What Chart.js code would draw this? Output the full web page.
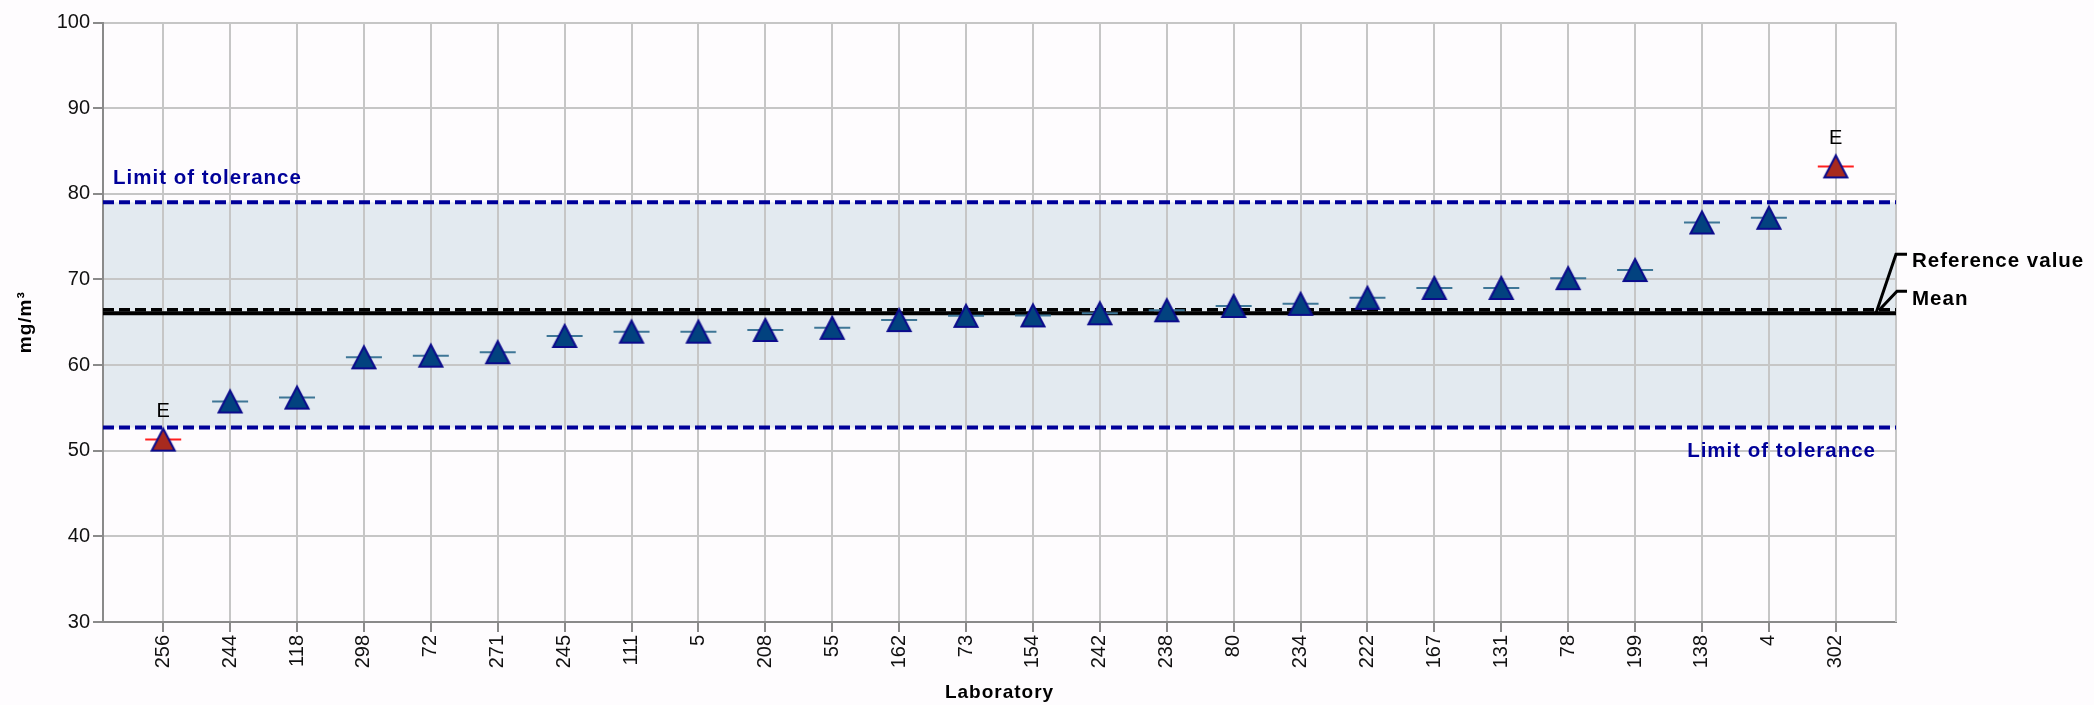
<!DOCTYPE html>
<html>
<head>
<meta charset="utf-8">
<title>Laboratory results</title>
<script src="https://cdn.jsdelivr.net/npm/chart.js@4.4.1/dist/chart.umd.min.js"></script>
<style>
  html, body { margin: 0; padding: 0; background: #fefcfe; }
  canvas { display: block; }
</style>
</head>
<body>
<canvas id="chart" width="2094" height="705"></canvas>
<script>
// Laboratory codes, sorted by reported result
const laboratories = ['256', '244', '118', '298', '72', '271', '245', '111', '5', '208', '55', '162', '73',
  '154', '242', '238', '80', '234', '222', '167', '131', '78', '199', '138', '4', '302'];
// Reported results (mg/m³)
const results = [51.3, 55.75, 56.2, 60.9, 61.1, 61.5, 63.4, 63.9, 63.9, 64.1, 64.35, 65.25, 65.75,
  65.8, 66.05, 66.4, 66.9, 67.15, 67.85, 69.0, 69.0, 70.15, 71.1, 76.65, 77.2, 83.2];
// Outlier flags ('E' = outside the limits of tolerance)
const flags = ['E', '', '', '', '', '', '', '', '', '', '', '', '', '', '', '', '', '', '', '', '', '', '', '', '', 'E'];
// Value axis ticks
const yTicks = [30, 40, 50, 60, 70, 80, 90, 100];
// Limits and statistics
const toleranceUpper = [79.0];
const toleranceLower = [52.7];
const referenceValue = [66.45];
const meanValue = [66.05];

const FONT = "'Liberation Sans', Arial, Helvetica, sans-serif";
const NAVY = '#000099';
const xMin = -0.9;
const xMax = laboratories.length - 1 + 0.9;

// Triangle marker drawn centred on its value
function makeTriangle(fill, stroke) {
  const c = document.createElement('canvas');
  c.width = 28; c.height = 28;
  const g = c.getContext('2d');
  g.beginPath();
  g.moveTo(14, 3);
  g.lineTo(25.5, 25);
  g.lineTo(2.5, 25);
  g.closePath();
  g.fillStyle = fill;
  g.fill();
  g.lineWidth = 2;
  g.lineJoin = 'miter';
  g.strokeStyle = stroke;
  g.stroke();
  return c;
}
const triNormal = makeTriangle('#02427f', '#0b0b8c');
const triOutlier = makeTriangle('#a82a1e', '#0b0b8c');

const points = results.map((v, i) => ({ x: i, y: v }));
const hLine = (arr) => [{ x: xMin, y: arr[0] }, { x: xMax, y: arr[0] }];

const decorations = {
  id: 'decorations',
  beforeDraw(chart) {
    const { ctx, chartArea: a, scales: { y } } = chart;
    ctx.save();
    ctx.fillStyle = '#fefcfe';
    ctx.fillRect(0, 0, chart.width, chart.height);
    const t = y.getPixelForValue(toleranceUpper[0]);
    const b = y.getPixelForValue(toleranceLower[0]);
    ctx.fillStyle = '#e3eaf0';
    ctx.fillRect(a.left, t, a.right - a.left, b - t);
    ctx.restore();
  },
  beforeDatasetsDraw(chart) {
    const { ctx, chartArea: a } = chart;
    ctx.save();
    ctx.strokeStyle = '#c6c6c6';
    ctx.lineWidth = 2;
    ctx.beginPath();
    ctx.moveTo(a.right, a.top);
    ctx.lineTo(a.right, a.bottom);
    ctx.stroke();
    ctx.restore();
  },
  afterDatasetsDraw(chart) {
    const { ctx, chartArea: a, scales: { x, y } } = chart;
    ctx.save();

    // Outlier marks
    ctx.font = '20px ' + FONT;
    ctx.fillStyle = '#000';
    ctx.textAlign = 'center';
    ctx.textBaseline = 'middle';
    flags.forEach((f, i) => {
      if (!f) return;
      ctx.fillText(f, x.getPixelForValue(i), y.getPixelForValue(results[i]) - 28);
    });

    ctx.letterSpacing = '1px';
    ctx.font = 'bold 20.5px ' + FONT;
    ctx.textBaseline = 'alphabetic';

    // Limit of tolerance labels
    ctx.fillStyle = NAVY;
    ctx.textAlign = 'left';
    ctx.fillText('Limit of tolerance', a.left + 10, y.getPixelForValue(toleranceUpper[0]) - 18);
    ctx.textAlign = 'right';
    ctx.fillText('Limit of tolerance', a.right - 20, y.getPixelForValue(toleranceLower[0]) + 29);

    // Reference value / mean callouts
    const ym = y.getPixelForValue(meanValue[0]);
    ctx.strokeStyle = '#000';
    ctx.lineWidth = 3;
    ctx.lineJoin = 'miter';
    ctx.beginPath();
    ctx.moveTo(a.right - 20, ym);
    ctx.lineTo(a.right, ym - 59);
    ctx.lineTo(a.right + 11, ym - 59);
    ctx.stroke();
    ctx.beginPath();
    ctx.moveTo(a.right - 17, ym - 3);
    ctx.lineTo(a.right + 1, ym - 22);
    ctx.lineTo(a.right + 11, ym - 22);
    ctx.stroke();
    ctx.fillStyle = '#000';
    ctx.textAlign = 'left';
    ctx.fillText('Reference value', a.right + 16, ym - 46);
    ctx.fillText('Mean', a.right + 16, ym - 8);

    // Axis titles
    ctx.font = 'bold 19px ' + FONT;
    ctx.textAlign = 'center';
    ctx.textBaseline = 'middle';
    ctx.fillText('Laboratory', (a.left + a.right) / 2, 693);
    ctx.translate(26, (a.top + a.bottom) / 2);
    ctx.rotate(-Math.PI / 2);
    ctx.fillText('mg/m³', 0, 0);
    ctx.restore();
  }
};

new Chart(document.getElementById('chart'), {
  type: 'scatter',
  data: {
    datasets: [
      {
        label: 'Result',
        data: points,
        pointStyle: flags.map(f => f ? triOutlier : triNormal),
        pointRadius: 13,
        order: 0
      },
      {
        label: 'Result line',
        data: points,
        pointStyle: 'line',
        pointRadius: 18,
        pointBorderWidth: 2,
        pointBorderColor: flags.map(f => f ? '#ff1f1f' : '#3e7696'),
        pointBackgroundColor: 'transparent',
        order: 1
      },
      {
        label: 'Upper limit',
        data: hLine(toleranceUpper),
        showLine: true,
        borderColor: NAVY,
        borderWidth: 4,
        borderDash: [11, 5],
        pointRadius: 0,
        order: 3
      },
      {
        label: 'Lower limit',
        data: hLine(toleranceLower),
        showLine: true,
        borderColor: NAVY,
        borderWidth: 4,
        borderDash: [11, 5],
        pointRadius: 0,
        order: 3
      },
      {
        label: 'Mean',
        data: hLine(meanValue),
        showLine: true,
        borderColor: '#000',
        borderWidth: 4,
        pointRadius: 0,
        order: 4
      },
      {
        label: 'Reference value',
        data: hLine(referenceValue),
        showLine: true,
        borderColor: '#000',
        borderWidth: 3.5,
        borderDash: [11, 5],
        pointRadius: 0,
        order: 2
      }
    ]
  },
  options: {
    responsive: false,
    animation: false,
    events: [],
    layout: { padding: { left: 0, top: 22.5, right: 198, bottom: 0 } },
    plugins: { legend: { display: false }, tooltip: { enabled: false } },
    scales: {
      x: {
        type: 'linear',
        min: xMin,
        max: xMax,
        afterBuildTicks(scale) {
          scale.ticks = laboratories.map((_, i) => ({ value: i }));
        },
        afterFit(scale) { scale.height = 83; },
        ticks: {
          autoSkip: false,
          minRotation: 90,
          maxRotation: 90,
          padding: 3,
          color: '#111',
          font: { family: FONT, size: 20 },
          callback: (v, i) => laboratories[i]
        },
        grid: { color: '#c6c6c6', lineWidth: 2, tickLength: 10, tickColor: '#8a8a8a' },
        border: { color: '#8a8a8a', width: 2 }
      },
      y: {
        min: yTicks[0],
        max: yTicks[yTicks.length - 1],
        afterBuildTicks(scale) {
          scale.ticks = yTicks.map(v => ({ value: v }));
        },
        afterFit(scale) { scale.width = 103; },
        ticks: {
          padding: 3,
          color: '#111',
          font: { family: FONT, size: 20 }
        },
        grid: { color: '#c6c6c6', lineWidth: 2, tickLength: 10, tickColor: '#8a8a8a' },
        border: { color: '#8a8a8a', width: 2 }
      }
    }
  },
  plugins: [decorations]
});
</script>
</body>
</html>
